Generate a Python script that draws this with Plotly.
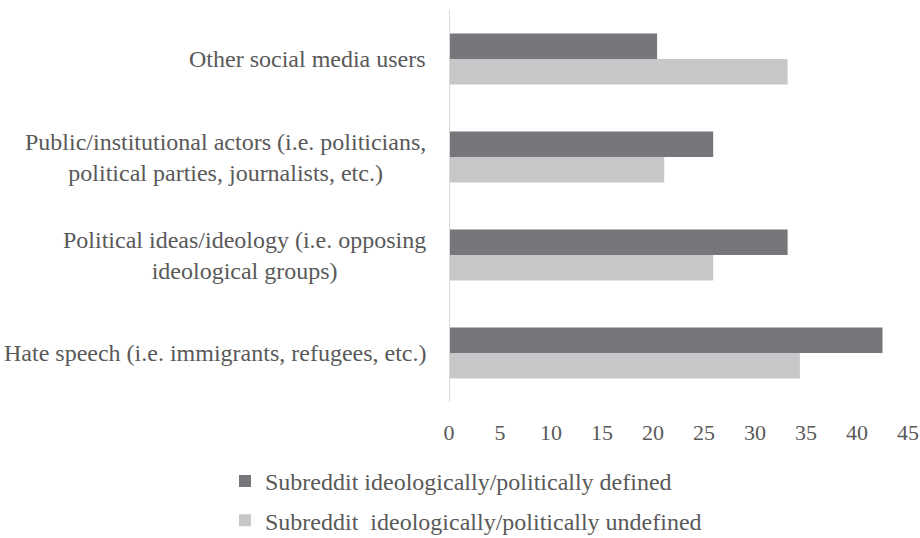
import plotly.graph_objects as go

categories = [
    "Hate speech (i.e. immigrants, refugees, etc.)",
    "Political ideas/ideology (i.e. opposing<br>ideological groups)",
    "Public/institutional actors (i.e. politicians,<br>political parties, journalists, etc.)",
    "Other social media users",
]
defined_vals = [42.5, 33.2, 25.9, 20.4]
undefined_vals = [34.4, 25.9, 21.1, 33.2]
series_names = [
    "Subreddit ideologically/politically defined",
    "Subreddit  ideologically/politically undefined",
]
tick_vals = [0, 5, 10, 15, 20, 25, 30, 35, 40, 45]

FONT = "'Liberation Serif', 'Times New Roman', Times, serif"
TXT = "#595959"

fig = go.Figure()
fig.add_trace(go.Bar(
    y=list(range(len(categories))), x=undefined_vals, orientation="h",
    name=series_names[1], marker=dict(color="#c6c7c9", line=dict(width=0)),
    legendgroup="b", legendrank=2,
))
fig.add_trace(go.Bar(
    y=list(range(len(categories))), x=defined_vals, orientation="h",
    name=series_names[0], marker=dict(color="#76777b", line=dict(width=0)),
    legendgroup="a", legendrank=1,
))

for i, c in enumerate(categories):
    fig.add_annotation(
        x=0, y=i, xref="x", yref="y", text=c, showarrow=False,
        xanchor="right", yanchor="middle", align="center", xshift=-21,
        font=dict(family=FONT, size=24, color=TXT),
    )

fig.update_layout(
    width=920, height=538,
    margin=dict(l=449, r=12, t=10, b=136, autoexpand=False),
    paper_bgcolor="white", plot_bgcolor="white",
    barmode="group", bargap=0.48, bargroupgap=0,
    font=dict(family=FONT, size=22, color=TXT),
    showlegend=True,
    legend=dict(
        orientation="v", traceorder="grouped",
        x=-0.488, xanchor="left", y=-0.145, yanchor="top",
        font=dict(family=FONT, size=24, color=TXT),
        tracegroupgap=5, itemwidth=30,
    ),
    xaxis=dict(
        range=[0, 45], tickvals=tick_vals, showgrid=False, zeroline=False,
        showline=False, ticks="", ticklabelstandoff=15, automargin=False,
        tickfont=dict(family=FONT, size=22, color=TXT),
    ),
    yaxis=dict(
        range=[-0.5, len(categories) - 0.5], showticklabels=False,
        showgrid=False, zeroline=False, showline=False, ticks="", automargin=False,
    ),
    shapes=[dict(type="line", xref="x", yref="paper", x0=0, x1=0, y0=0, y1=1,
                 line=dict(color="#d9d9d9", width=2))],
)

fig.write_html(
    "out.html",
    config={"displayModeBar": False},
    post_script="document.body.style.margin='0';document.body.style.overflow='hidden';",
)
